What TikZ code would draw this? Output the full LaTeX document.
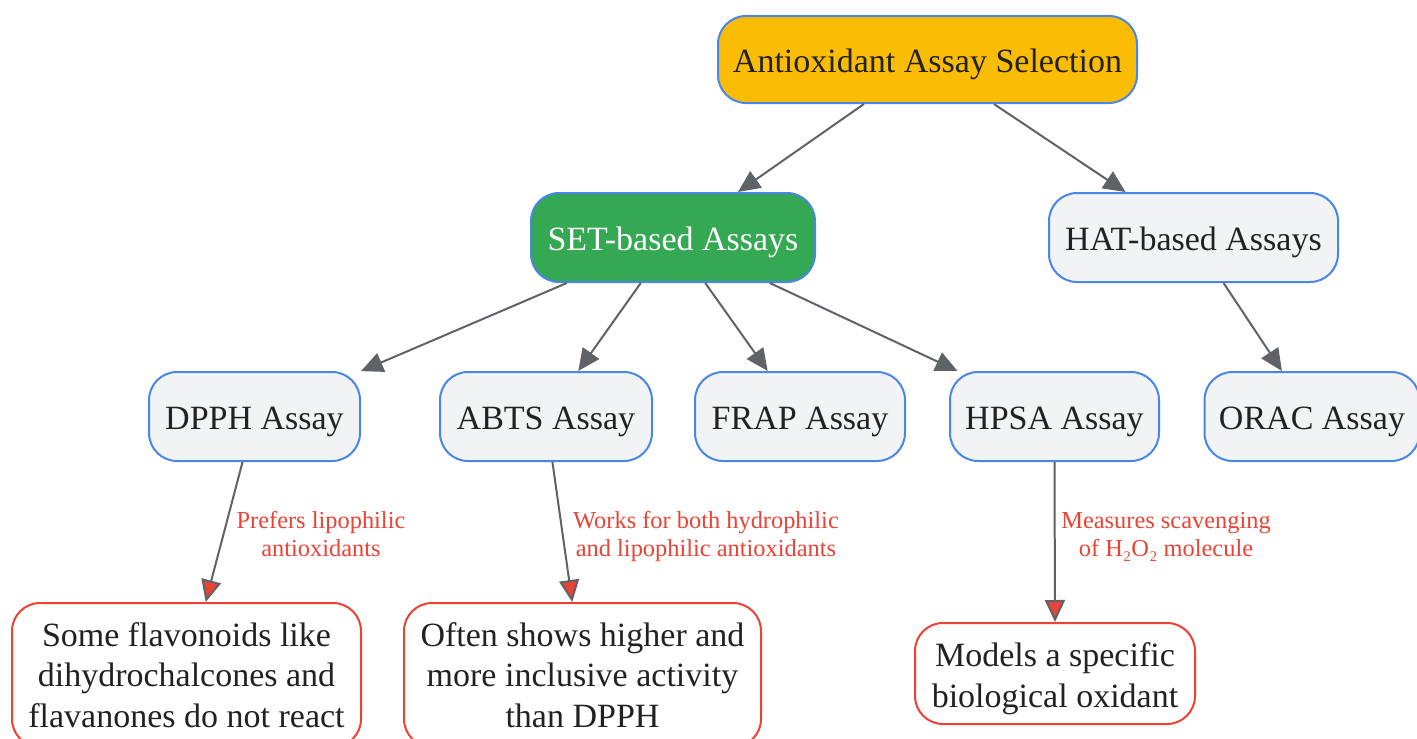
\documentclass[tikz,border=0pt]{standalone}
\usepackage{fontspec}
\setmainfont{Liberation Serif}
\usetikzlibrary{arrows.meta}
\definecolor{nodeblue}{HTML}{4A86E8}
\definecolor{nodered}{HTML}{EA4335}
\definecolor{topfill}{HTML}{FBBC05}
\definecolor{setfill}{HTML}{34A853}
\definecolor{lightfill}{HTML}{F1F3F4}
\definecolor{edgegray}{HTML}{5F6368}
\definecolor{txt}{HTML}{222222}
\begin{document}
\begin{tikzpicture}[x=1pt,y=-1pt,
  box/.style={draw=nodeblue, line width=2pt, rounded corners=28pt, fill=lightfill,
    text=txt, align=center, inner sep=0pt, font=\fontsize{34}{40.5}\selectfont},
  single/.style={box, text height=30.5pt, text depth=5pt},
  leaf/.style={box, draw=nodered, fill=white},
  edge/.style={draw=edgegray, line width=2pt, -{Triangle[length=22pt,width=20pt,fill=edgegray]}},
  redge/.style={draw=edgegray, line width=2pt, -{Triangle[length=22pt,width=20pt,fill=nodered]}},
  lbl/.style={text=nodered, align=center, inner sep=0pt, font=\fontsize{24.4}{28}\selectfont}
]
\useasboundingbox (0,0) rectangle (1417,739);
\node[single, fill=topfill, minimum width=419pt, minimum height=87pt] (top) at (927.5,59.5) {Antioxidant Assay Selection};
\node[single, fill=setfill, text=white, minimum width=284pt, minimum height=89pt] (set) at (673,237.5) {SET-based Assays};
\node[single, minimum width=289pt, minimum height=89pt] (hat) at (1193.5,237.5) {HAT-based Assays};
\node[single, minimum width=211pt, minimum height=89pt] (dpph) at (254.5,416.5) {DPPH Assay};
\node[single, minimum width=212pt, minimum height=89pt] (abts) at (546,416.5) {ABTS Assay};
\node[single, minimum width=210pt, minimum height=89pt] (frap) at (800,416.5) {FRAP Assay};
\node[single, minimum width=209pt, minimum height=89pt] (hpsa) at (1054.5,416.5) {HPSA Assay};
\node[single, minimum width=215pt, minimum height=89pt] (orac) at (1312,416.5) {ORAC Assay};
\node[leaf, minimum width=349pt, minimum height=144pt] (some) at (186.5,675) {Some flavonoids like\\dihydrochalcones and\\flavanones do not react};
\node[leaf, minimum width=357pt, minimum height=144pt] (often) at (582.5,675) {Often shows higher and\\more inclusive activity\\than DPPH};
\node[leaf, minimum width=280pt, minimum height=101pt, text height=69.5pt, text depth=2.5pt] (models) at (1055,673.5) {Models a specific\\biological oxidant};
\draw[edge] (top) -- (set);
\draw[edge] (top) -- (hat);
\draw[edge] (set) -- (dpph);
\draw[edge] (set) -- (abts);
\draw[edge] (set) -- (frap);
\draw[edge] (set) -- (hpsa);
\draw[edge] (hat) -- (orac);
\draw[redge] (dpph) -- (some);
\draw[redge] (abts) -- (often);
\draw[redge] (hpsa.south) -- (models.north);
\node[lbl] (l1) at (321,534) {Prefers lipophilic\\antioxidants};
\node[lbl] (l2) at (706,537) {Works for both hydrophilic\\and lipophilic antioxidants};
\node[lbl] (l3) at (1166,537) {Measures scavenging\\of H₂O₂ molecule};
\end{tikzpicture}
\end{document}
